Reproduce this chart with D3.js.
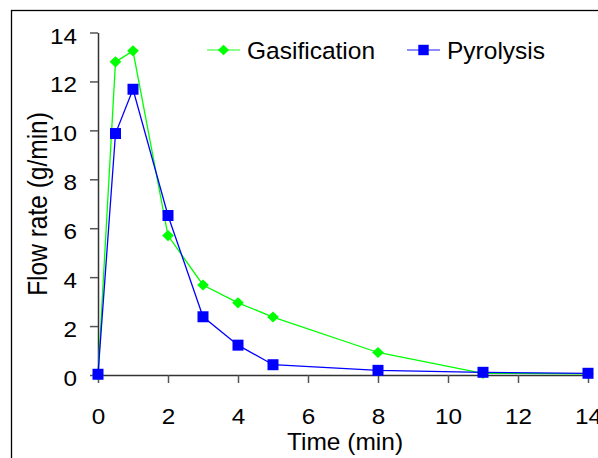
<!DOCTYPE html>
<html>
<head>
<meta charset="utf-8">
<script src="https://cdn.jsdelivr.net/npm/d3@7"></script>
<style>
  body { margin: 0; background: #fff; }
  text { font-family: "Liberation Sans", Arial, sans-serif; fill: #000; }
</style>
</head>
<body>
<div class="chart"></div>
<script>
// data
var time = [0, 0.5, 1, 2, 3, 4, 5, 8, 11, 14];
var gasification = [0, 12.8, 13.25, 5.7, 3.68, 2.95, 2.37, 0.92, 0.07, 0.05];
var pyrolysis = [0.03, 9.87, 11.68, 6.52, 2.38, 1.22, 0.42, 0.19, 0.11, 0.07];
var xTicks = [0, 2, 4, 6, 8, 10, 12, 14];
var yTicks = [0, 2, 4, 6, 8, 10, 12, 14];

var width = 598, height = 458;
var stretch = 1.08; // tick digits look a little wider than tall

var svg = d3.select(".chart")
            .append("svg")
            .attr("width", width)
            .attr("height", height);

// outer frame (runs off the right and bottom edge)
svg.append("rect")
   .attr("x", 11.5).attr("y", 10.5)
   .attr("width", 700).attr("height", 600)
   .attr("fill", "none").attr("stroke", "#000").attr("stroke-width", 1.3);

var x = d3.scaleLinear().domain([0, 14]).range([98, 588]);
var y = d3.scaleLinear().domain([0, 14]).range([375, 32.5]);

// Y axis
var yAxis = svg.append("g")
   .attr("transform", "translate(98,0)")
   .call(d3.axisLeft(y).tickValues(yTicks).tickSize(8).tickSizeOuter(0));
// X axis
var xAxis = svg.append("g")
   .attr("transform", "translate(0,375)")
   .call(d3.axisBottom(x).tickValues(xTicks).tickSize(8).tickSizeOuter(0));

[yAxis, xAxis].forEach(function(g){
  g.select(".domain").attr("stroke", "#333").attr("stroke-width", 1.5);
  g.selectAll(".tick line").attr("stroke", "#555").attr("stroke-width", 1.5);
  g.selectAll(".tick text")
   .style("font-size", "22.5px")
   .style("font-family", "Liberation Sans, Arial, sans-serif")
   .attr("fill", "#000")
   .attr("transform", "scale(" + stretch + ",1)");
});
yAxis.selectAll(".tick text")
     .attr("x", -21 / stretch)
     .attr("y", 10.5)
     .attr("dy", 0);
xAxis.selectAll(".tick text")
     .attr("y", 49)
     .attr("dy", 0);

// axis titles
svg.append("text")
   .attr("text-anchor", "middle")
   .style("font-size", "24.5px")
   .attr("x", 345).attr("y", 450)
   .text("Time (min)");

svg.append("text")
   .attr("text-anchor", "middle")
   .style("font-size", "24.5px")
   .attr("transform", "translate(46.5,204)rotate(-90)scale(1,1.15)")
   .text("Flow rate (g/min)");

var diamond = {
  draw: function(ctx, size) {
    var r = Math.sqrt(size) / 2;
    ctx.moveTo(0, -r); ctx.lineTo(r * 1.05, 0); ctx.lineTo(0, r); ctx.lineTo(-r * 1.05, 0); ctx.closePath();
  }
};

var series = [
  {name: "Gasification", values: gasification, color: "#00ff00", shape: diamond, size: 125, legendX: 207},
  {name: "Pyrolysis", values: pyrolysis, color: "#0000ff", shape: d3.symbolSquare, size: 121, legendX: 407}
];

var line = d3.line()
             .x(function(d){ return x(d[0]); })
             .y(function(d){ return y(d[1]); });

series.forEach(function(s){
  var pts = time.map(function(t, i){ return [t, s.values[i]]; });
  svg.append("path")
     .attr("d", line(pts))
     .attr("fill", "none")
     .attr("stroke", s.color)
     .attr("stroke-width", 1.3);
  svg.selectAll(null)
     .data(pts)
     .enter()
     .append("path")
     .attr("d", d3.symbol().type(s.shape).size(s.size))
     .attr("transform", function(d){ return "translate(" + x(d[0]) + "," + y(d[1]) + ")"; })
     .attr("fill", s.color);

  // legend entry
  var lg = svg.append("g").attr("transform", "translate(" + s.legendX + ",50)");
  lg.append("line")
    .attr("x1", 0).attr("x2", 33)
    .attr("stroke", s.color).attr("stroke-opacity", 0.6).attr("stroke-width", 1.5);
  lg.append("path")
    .attr("d", d3.symbol().type(s.shape).size(s.size * 0.9))
    .attr("transform", "translate(16.5,0)")
    .attr("fill", s.color);
  lg.append("text")
    .attr("x", 40).attr("y", 8.5)
    .style("font-size", "24.5px")
    .text(s.name);
});
</script>
</body>
</html>
